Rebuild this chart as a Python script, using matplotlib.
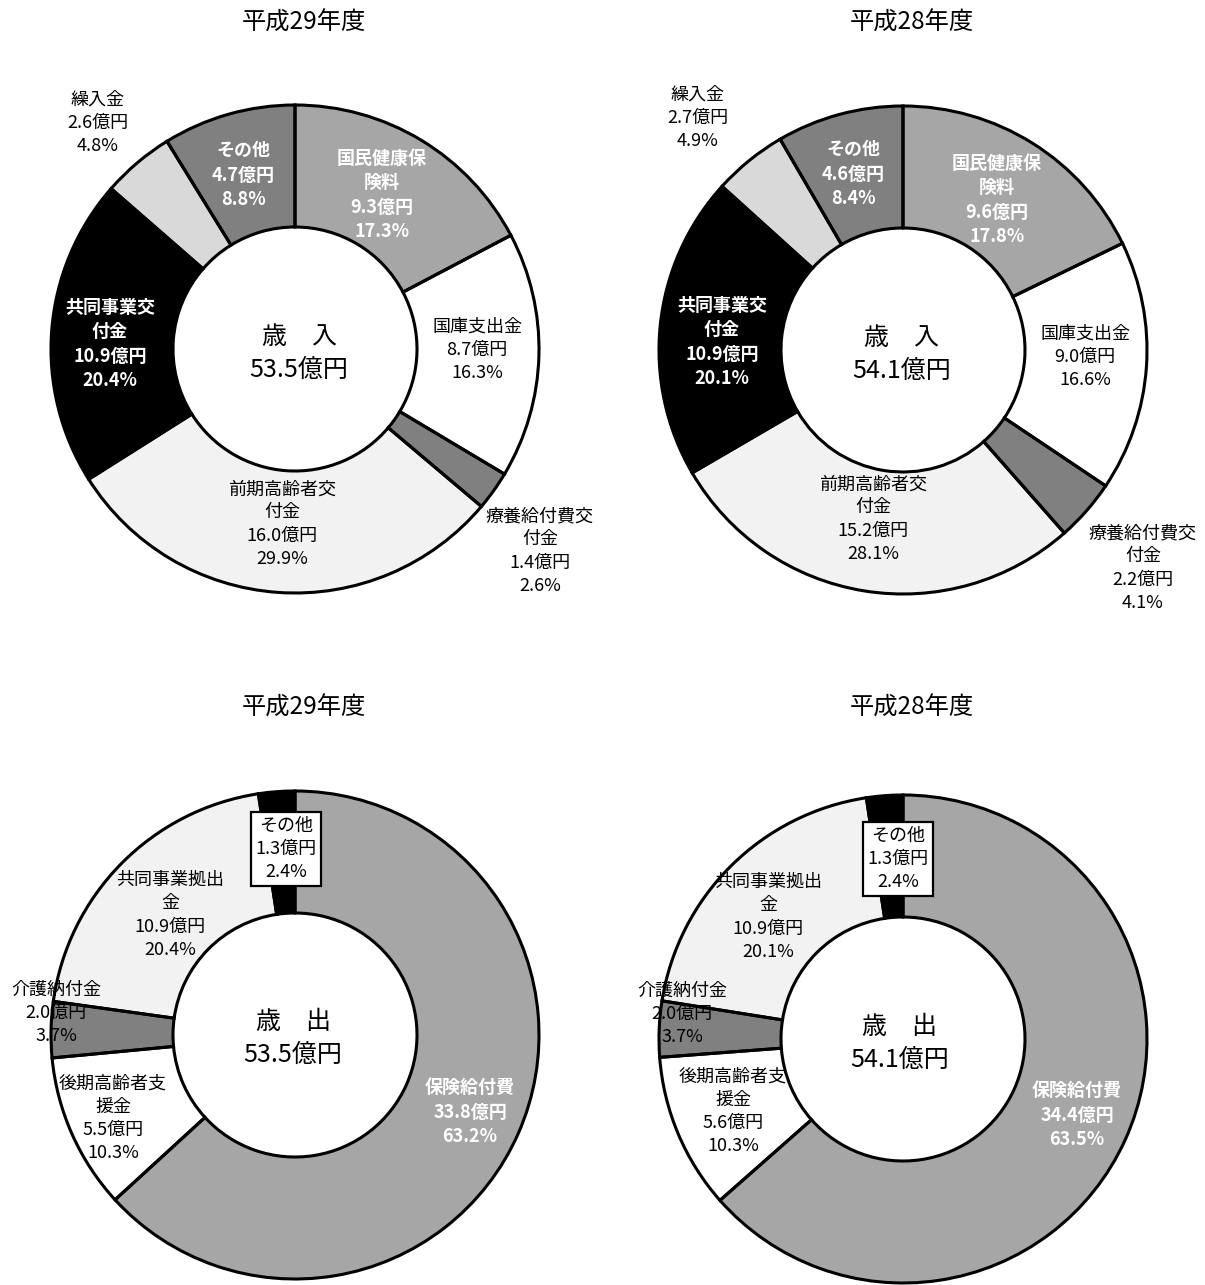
import matplotlib
matplotlib.use("Agg")
import matplotlib.pyplot as plt

plt.rcParams["font.family"] = ["Noto Sans CJK JP", "DejaVu Sans"]

W, H = 1205, 1285

# 歳入
rev_names = ["国民健康保\n険料", "国庫支出金", "療養給付費交\n付金", "前期高齢者交\n付金",
             "共同事業交\n付金", "繰入金", "その他"]
rev_amount_h29 = [9.3, 8.7, 1.4, 16.0, 10.9, 2.6, 4.7]
rev_pct_h29 = [17.3, 16.3, 2.6, 29.9, 20.4, 4.8, 8.8]
rev_amount_h28 = [9.6, 9.0, 2.2, 15.2, 10.9, 2.7, 4.6]
rev_pct_h28 = [17.8, 16.6, 4.1, 28.1, 20.1, 4.9, 8.4]
rev_total = [53.5, 54.1]

# 歳出
exp_names = ["保険給付費", "後期高齢者支\n援金", "介護納付金", "共同事業拠出\n金", "その他"]
exp_amount_h29 = [33.8, 5.5, 2.0, 10.9, 1.3]
exp_pct_h29 = [63.2, 10.3, 3.7, 20.4, 2.4]
exp_amount_h28 = [34.4, 5.6, 2.0, 10.9, 1.3]
exp_pct_h28 = [63.5, 10.3, 3.7, 20.1, 2.4]
exp_total = [53.5, 54.1]

years = ["平成29年度", "平成28年度"]

rev_colors = ["#a6a6a6", "#ffffff", "#808080", "#f2f2f2", "#000000", "#d9d9d9", "#808080"]
rev_white = [True, False, False, False, True, False, True]
exp_colors = ["#a6a6a6", "#ffffff", "#808080", "#f2f2f2", "#000000"]
exp_white = [True, False, False, False, False]

# label anchors in pixel coordinates (y from top)
rev_pos = [
    [(382, 195), (477, 350), (540, 551), (282, 524), (110, 344), (98, 123), (243, 175)],
    [(997, 200), (1085, 357), (1143, 568), (873, 519), (722, 342), (698, 118), (853, 174)],
]
exp_pos = [
    [(470, 1112), (113, 1118), (56, 1013), (170, 915), (286, 849)],
    [(1077, 1115), (733, 1111), (682, 1014), (768, 917), (898, 859)],
]
rev_centers = [(295, 349), (903, 350)]
exp_centers = [(295, 1035), (903, 1039)]
R_OUT, RING = 244, 122

fig = plt.figure(figsize=(W / 100, H / 100), dpi=100)
ax = fig.add_axes([0, 0, 1, 1])


def donut(pct, colors, center):
    # y axis is inverted, so startangle 270 + counterclock is 12 o'clock, clockwise
    ax.pie(pct, colors=colors, center=center, radius=R_OUT, startangle=270,
           counterclock=True, wedgeprops=dict(width=RING, linewidth=0, zorder=1))
    ax.pie(pct, center=center, radius=R_OUT, startangle=270, counterclock=True,
           wedgeprops=dict(width=RING, facecolor="none", edgecolor="black",
                           linewidth=2.2, zorder=4))


def slice_labels(names, amounts, pct, pos, white, boxed_last=False):
    for i, (name, a, p, (x, y)) in enumerate(zip(names, amounts, pct, pos)):
        s = f"{name}\n{a:.1f}億円\n{p:.1f}%"
        kw = dict(ha="center", va="center", multialignment="center", fontsize=13,
                  linespacing=1.36, zorder=3)
        if white[i]:
            kw.update(color="white", fontweight="bold")
        else:
            kw.update(color="black")
        if boxed_last and i == len(names) - 1:
            kw.update(zorder=6, bbox=dict(boxstyle="square,pad=0.25", facecolor="white",
                                          edgecolor="black", linewidth=1.6))
        ax.text(x, y, s, **kw)


def center_text(x, y_top, kind, total):
    ax.text(x, y_top, kind, ha="center", va="center", fontsize=18, zorder=3)
    ax.text(x, y_top + 33, f"{total:.1f}億円", ha="center", va="center", fontsize=18, zorder=3)


rev_amounts = [rev_amount_h29, rev_amount_h28]
rev_pcts = [rev_pct_h29, rev_pct_h28]
exp_amounts = [exp_amount_h29, exp_amount_h28]
exp_pcts = [exp_pct_h29, exp_pct_h28]
title_x = [304, 912]
rev_mid = [(299, 337), (902, 338)]
exp_mid = [(293, 1022), (900, 1027)]

for k in range(2):
    donut(rev_pcts[k], rev_colors, rev_centers[k])
    slice_labels(rev_names, rev_amounts[k], rev_pcts[k], rev_pos[k], rev_white)
    center_text(*rev_mid[k], "歳\u3000入", rev_total[k])
    ax.text(title_x[k], 23, years[k], ha="center", va="center", fontsize=17.5)

    donut(exp_pcts[k], exp_colors, exp_centers[k])
    slice_labels(exp_names, exp_amounts[k], exp_pcts[k], exp_pos[k], exp_white, boxed_last=True)
    center_text(*exp_mid[k], "歳\u3000出", exp_total[k])
    ax.text(title_x[k], 708, years[k], ha="center", va="center", fontsize=17.5)

ax.set_xlim(0, W)
ax.set_ylim(H, 0)
ax.set_aspect("auto")
ax.axis("off")

fig.savefig("out.png", dpi=100, facecolor="white")
